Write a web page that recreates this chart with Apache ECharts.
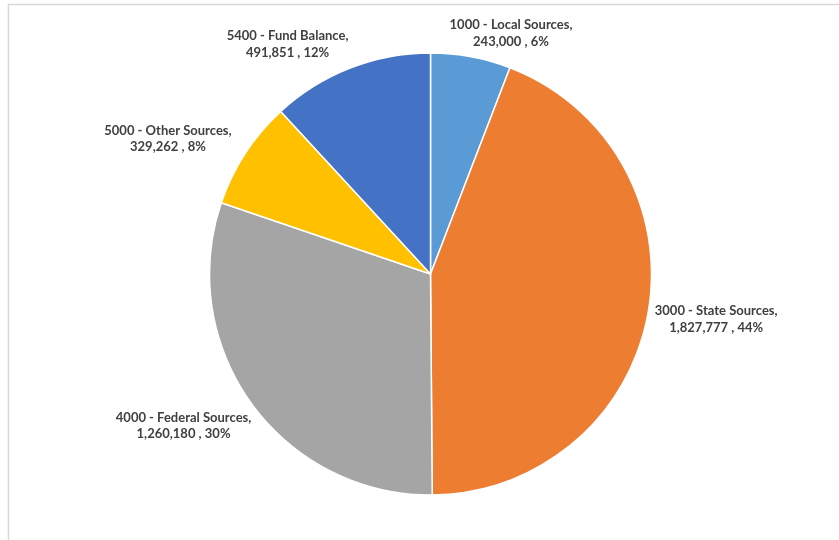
<!DOCTYPE html>
<html>
<head>
<meta charset="utf-8">
<script src="https://cdn.jsdelivr.net/npm/echarts@6/dist/echarts.min.js"></script>
<style>
html,body{margin:0;padding:0;background:#fff;}
#main{width:839px;height:540px;}
</style>
</head>
<body>
<div id="main"></div>
<script>
const categories = ["1000 - Local Sources", "3000 - State Sources", "4000 - Federal Sources", "5000 - Other Sources", "5400 - Fund Balance"];
const values = [243000, 1827777, 1260180, 329262, 491851];
const colors = ["#5B9BD5", "#ED7D31", "#A5A5A5", "#FFC000", "#4472C4"];

// label placement (angle in degrees clockwise from top, distance from centre in px)
const labelPolar = [[18.4, 255], [98.7, 289], [238.7, 289], [297.5, 296], [328.3, 272]];

const chart = echarts.init(document.getElementById('main'));
const cx = 430.5, cy = 274;
chart.setOption({
  animation: false,
  graphic: [{
    type: 'rect', shape: {x: 8.5, y: 4.5, width: 900, height: 600},
    style: {fill: 'none', stroke: '#d9d9d9', lineWidth: 1.5}, silent: true
  }],
  series: [{
    type: 'pie',
    center: [cx, cy],
    radius: [0, 221],
    startAngle: 90,
    clockwise: true,
    percentPrecision: 0,
    avoidLabelOverlap: false,
    data: categories.map((c, i) => ({name: c, value: values[i], itemStyle: {color: colors[i]}})),
    itemStyle: {borderColor: '#fff', borderWidth: 1.5},
    label: {
      show: true,
      position: 'outside',
      formatter: p => p.name + ',\n' + p.value.toLocaleString('en-US') + ' , ' + p.percent + '%',
      fontFamily: 'Lato',
      fontWeight: 'bold',
      fontSize: 13,
      lineHeight: 16.5,
      color: '#404040',
      align: 'center'
    },
    labelLine: {show: false},
    labelLayout: function (params) {
      const lp = labelPolar[params.dataIndex];
      const a = lp[0] * Math.PI / 180;
      return {
        x: cx + lp[1] * Math.sin(a),
        y: cy - lp[1] * Math.cos(a) + 1.5,
        align: 'center',
        verticalAlign: 'middle'
      };
    }
  }]
});
</script>
</body>
</html>
